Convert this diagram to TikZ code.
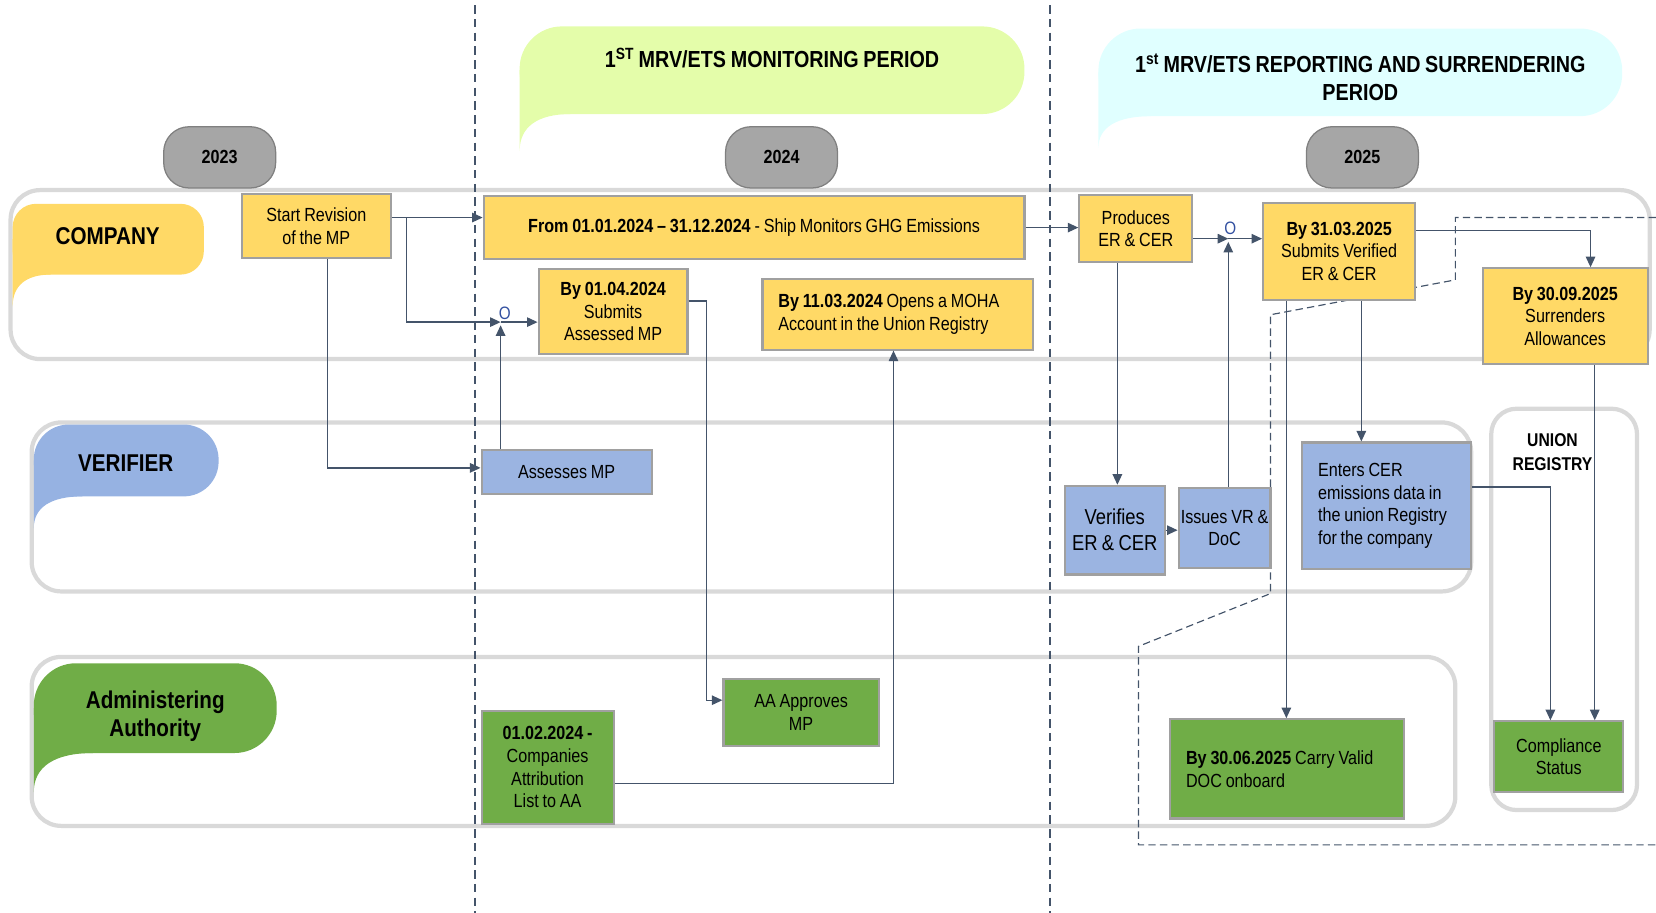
\documentclass[tikz,border=0pt]{standalone}
\usepackage{fontspec}
\setmainfont{Liberation Sans}[FakeStretch=0.85, WordSpace=0.85]
\usetikzlibrary{arrows.meta,calc}

\definecolor{boxyellow}{RGB}{255,217,102}
\definecolor{boxblue}{RGB}{155,180,225}
\definecolor{boxgreen}{RGB}{112,173,71}
\definecolor{boxline}{RGB}{160,160,160}
\definecolor{connc}{RGB}{68,84,106}
\definecolor{laneline}{RGB}{217,217,217}
\definecolor{pillfill}{RGB}{166,166,166}
\definecolor{pillline}{RGB}{128,128,128}
\definecolor{monfill}{RGB}{228,253,170}
\definecolor{repfill}{RGB}{224,255,255}
\definecolor{tabblue}{RGB}{150,178,226}
\definecolor{jblue}{RGB}{50,80,160}

\newcommand\bx{\fontsize{18}{21.5}\selectfont}
\newcommand\bxl{\fontsize{20.5}{24.5}\selectfont}
\newcommand\hd{\fontsize{22}{27}\selectfont\bfseries}
\newcommand\tb{\fontsize{23}{26}\selectfont\bfseries}

% lane tab / callout: colour, x0, y0, x1, y1, radius, tail bottom y, curve start x
\newcommand\lanetab[8]{%
  \fill[#1, rounded corners=#6] (#2,#3) rectangle (#4,#5);
  \fill[#1] (#2,{(#3+#5)/2}) -- (#8,{(#3+#5)/2}) -- (#8,#5)
     .. controls ({#2+0.35*(#8-#2)},#5) and (#2,{#5+0.35*(#7-#5)}) .. (#2,#7) -- cycle;
}

\tikzset{
  stepbox/.style={draw=boxline, line width=2pt, inner sep=3pt, align=center, font=\bx, text=black},
  ybox/.style={stepbox, fill=boxyellow},
  bbox/.style={stepbox, fill=boxblue},
  gbox/.style={stepbox, fill=boxgreen},
  leftbox/.style={align=flush left, inner xsep=15pt},
  pill/.style={draw=pillline, fill=pillfill, line width=1.2pt, rounded corners=24pt,
    minimum width=106pt, minimum height=58pt, font=\fontsize{18}{20}\selectfont\bfseries},
  lanebox/.style={draw=laneline, line width=4pt, rounded corners=28pt},
  conn/.style={draw=connc, line width=1.2pt, -{Triangle[length=10pt,width=9pt]}},
  divider/.style={draw=connc, line width=1.6pt, dash pattern=on 8pt off 5pt},
  zoneline/.style={draw=connc, line width=1.1pt, dash pattern=on 7pt off 4pt},
  jlabel/.style={text=jblue, font=\fontsize{17}{17}\selectfont, inner sep=0pt},
}

\begin{document}
\begin{tikzpicture}[x=1pt,y=-1pt]
\useasboundingbox (0,0) rectangle (1568,864);

% period callouts
\lanetab{monfill}{492}{25}{970}{108}{40}{143}{540}
\lanetab{repfill}{1040}{27}{1536}{110}{40}{140}{1090}
\node[font=\hd] (monhead) at (731,55) {1\textsuperscript{ST} MRV/ETS MONITORING PERIOD};
\node[font=\hd, align=center] (rephead) at (1288,73) {1\textsuperscript{st} MRV/ETS REPORTING AND SURRENDERING\\PERIOD};

% swimlanes
\draw[lanebox] (10,180) rectangle (1562,340);
\draw[lanebox] (30,400) rectangle (1393,560);
\draw[lanebox] (30,622) rectangle (1378,782);
\draw[lanebox, rounded corners=24pt] (1412,387) rectangle (1550,767);

% lane tabs
\lanetab{boxyellow}{12}{193}{193}{260}{22}{290}{48}
\lanetab{tabblue}{32}{402}{207}{470}{33}{500}{78}
\lanetab{boxgreen}{32}{628}{262}{713}{40}{750}{88}
\node[font=\tb] (lcomp) at (102,224) {COMPANY};
\node[font=\tb] (lver) at (119,439) {VERIFIER};
\node[font=\tb, align=center] (laa) at (147,678) {Administering\\Authority};
\node[font=\fontsize{17.5}{22}\selectfont\bfseries, align=center] (lur) at (1470,428) {UNION\\REGISTRY};

% year markers
\node[pill] (y23) at (208,149) {2023};
\node[pill] (y24) at (740,149) {2024};
\node[pill] (y25) at (1290,149) {2025};

% period dividers
\draw[divider] (450,5) -- (450,864);
\draw[divider] (994,5) -- (994,864);

% reporting zone outline
\draw[zoneline] (1568,206) -- (1378,206) -- (1378,265) -- (1203,298) -- (1203,562)
  -- (1078,612) -- (1078,800) -- (1568,800);

% company steps
\node[ybox, minimum width=141pt, minimum height=60pt] (start) at (299.5,214) {Start Revision\\of the MP};
\node[ybox, minimum width=512pt, minimum height=59pt] (from) at (714,215.5)
  {\textbf{From 01.01.2024 -- 31.12.2024} - Ship Monitors GHG Emissions};
\node[ybox, minimum width=141pt, minimum height=80pt] (submits) at (580.5,295)
  {\textbf{By 01.04.2024}\\Submits\\Assessed MP};
\node[ybox, leftbox, minimum width=256pt, minimum height=67pt, text width=226pt] (moha) at (850,297.5)
  {\textbf{By 11.03.2024} Opens a MOHA\\Account in the Union Registry};
\node[ybox, minimum width=107pt, minimum height=63pt] (produces) at (1075.5,216.5) {Produces\\ER \& CER};
\node[ybox, minimum width=144pt, minimum height=92pt] (verified) at (1268,238)
  {\textbf{By 31.03.2025}\\Submits Verified\\ER \& CER};
\node[ybox, minimum width=156pt, minimum height=91pt] (surrender) at (1482,299.5)
  {\textbf{By 30.09.2025}\\Surrenders\\Allowances};

% verifier steps
\node[bbox, minimum width=161pt, minimum height=42pt] (assesses) at (536.5,447) {Assesses MP};
\node[bbox, minimum width=95pt, minimum height=84pt, font=\bxl] (verifies) at (1055.5,502) {Verifies\\ER \& CER};
\node[bbox, minimum width=87pt, minimum height=76pt, inner sep=0pt] (issues) at (1159.5,500) {Issues VR \&\\DoC};
\node[bbox, leftbox, minimum width=160pt, minimum height=120pt, text width=130pt] (enters) at (1313,479)
  {Enters CER\\emissions data in\\the union Registry\\for the company};

% registry step
\node[gbox, minimum width=122pt, minimum height=67pt] (compliance) at (1476,716.5) {Compliance\\Status};

% administering authority steps
\node[gbox, minimum width=147pt, minimum height=63pt] (approves) at (758.5,674.5) {AA Approves\\MP};
\node[gbox, minimum width=125pt, minimum height=107pt] (attribution) at (518.5,726.5)
  {\textbf{01.02.2024 -}\\Companies\\Attribution\\List to AA};
\node[gbox, leftbox, minimum width=221pt, minimum height=94pt, text width=191pt] (doc) at (1218.5,728)
  {\textbf{By 30.06.2025} Carry Valid\\DOC onboard};

% junctions
\coordinate (b1) at (385,206);
\coordinate (j1) at (474,305);
\coordinate (j2) at (1163,226);
\node[jlabel] (o1) at (478,297) {O};
\node[jlabel] (o2) at (1165,216) {O};

% connectors
\draw[conn] ([yshift=8pt]start.east) -- ([yshift=9.5pt]from.west);
\draw[conn] (b1) |- (j1);
\draw[conn] (assesses.north -| j1) -- ([yshift=-3pt]j1);
\draw[conn] (j1) -- (submits.west |- j1);
\draw[conn] ([xshift=10.5pt]start.south) |- ([yshift=4pt]assesses.west);
\draw[conn] ([yshift=10pt]submits.east) -- ++(17,0) |- ([yshift=11.5pt]approves.west);
\draw[conn] ([yshift=-15.5pt]attribution.east) -| ([xshift=-4pt]moha.south);
\draw[conn] (from.east) -- (produces.west |- from.east);
\draw[conn] ([yshift=-9.5pt]produces.east) -- (j2);
\draw[conn] (j2) -- (verified.west |- j2);
\draw[conn] ([xshift=-17.5pt]produces.south) coordinate (p1) -- (p1 |- verifies.north);
\draw[conn] (verifies.east) -- (issues.west |- verifies.east);
\draw[conn] ([xshift=3.5pt]issues.north) coordinate (p2) -- ([yshift=-3pt]p2 |- j2);
\draw[conn] ([yshift=20pt]verified.east) -| ([xshift=24pt]surrender.north);
\draw[conn] ([xshift=-50pt]verified.south) coordinate (p3) -- (p3 |- doc.north);
\draw[conn] ([xshift=21pt]verified.south) coordinate (p4) -- (p4 |- enters.north);
\draw[conn] ([yshift=18pt]enters.east) -| ([xshift=-8pt]compliance.north);
\draw[conn] ([xshift=28pt]surrender.south) coordinate (p5) -- (p5 |- compliance.north);
\end{tikzpicture}
\end{document}
